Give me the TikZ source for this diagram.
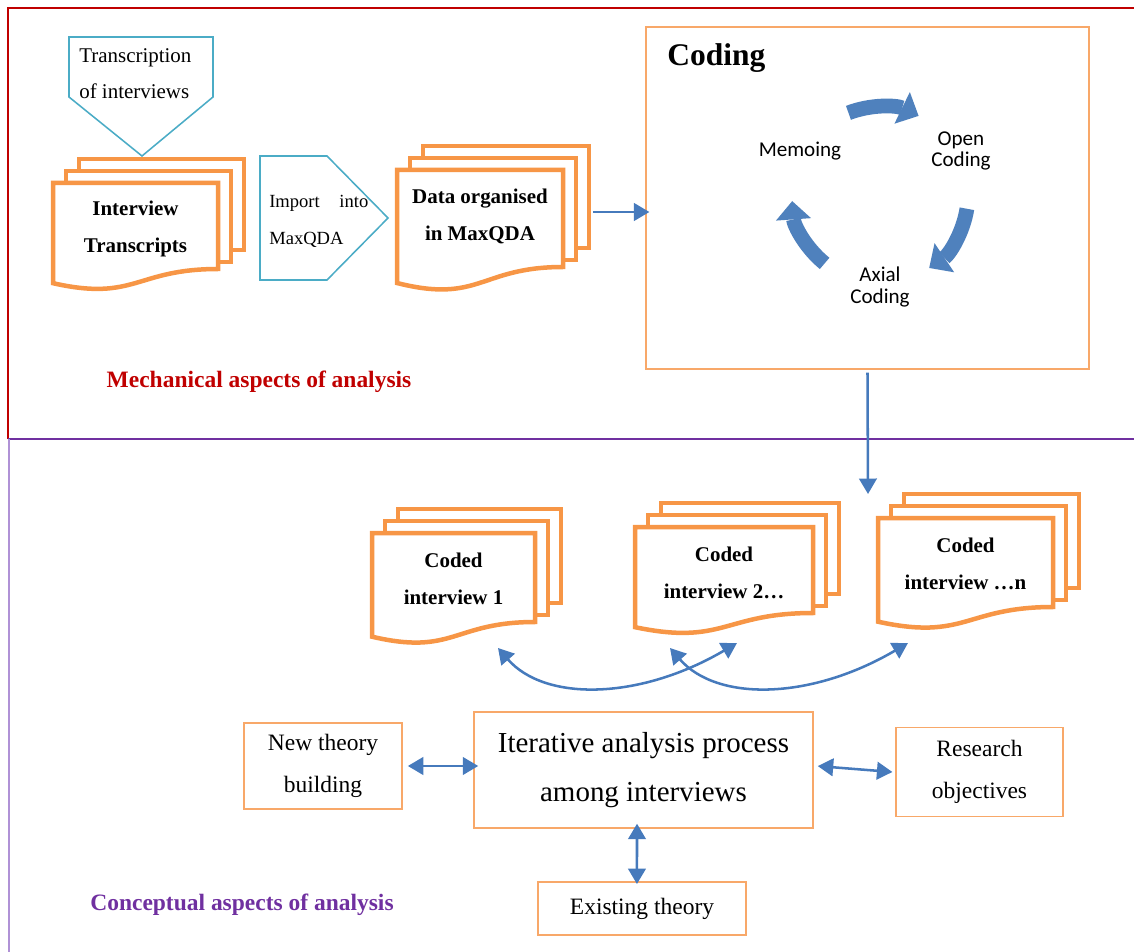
\documentclass[tikz,border=0pt]{standalone}
\usepackage{fontspec}
\setmainfont{Liberation Serif}
\newfontfamily\cyclefont{Carlito}
\usetikzlibrary{arrows.meta}

\definecolor{docorange}{RGB}{247,150,70}
\definecolor{boxorange}{RGB}{248,168,105}
\definecolor{calloutteal}{RGB}{75,172,198}
\definecolor{linkblue}{RGB}{70,122,188}
\definecolor{cycleblue}{RGB}{79,129,189}
\definecolor{mechred}{RGB}{192,0,0}
\definecolor{concpurple}{RGB}{112,48,160}
\definecolor{lightpurple}{RGB}{176,146,214}

\tikzset{
  docline/.style={draw=docorange, line width=3.2pt, fill=white},
  doctext/.style={align=center, inner sep=0pt, font=\bfseries\fontsize{14.9}{26.3}\selectfont},
  callout/.style={draw=calloutteal, line width=1.1pt, fill=white},
  thinbox/.style={draw=boxorange, line width=1.1pt, fill=white, align=center},
  link/.style={linkblue, line width=1.8pt, -{Triangle[length=11pt,width=12.5pt]}},
  dlink/.style={linkblue, line width=1.8pt, {Triangle[length=11pt,width=12.5pt]}-{Triangle[length=11pt,width=12.5pt]}},
  cyclearrow/.style={cycleblue, line width=10.5pt, -{Triangle[length=13pt,width=25pt,line width=0pt]}},
  cyclelabel/.style={align=center, inner sep=0pt, font=\cyclefont\fontsize{15}{15.6}\selectfont},
  aspect/.style={inner sep=0pt, font=\bfseries\fontsize{16.7}{20}\selectfont},
}

% stack of three pages: name, left, top, width, height, text
\newcommand{\docstack}[6]{%
  \draw[docline] ({#2+26},{#3-24}) rectangle ({#2+#4+26},{#3+#5-19});
  \draw[docline] ({#2+13},{#3-12}) rectangle ({#2+#4+13},{#3+#5-7});
  \draw[docline] (#2,#3) -- ({#2+#4},#3) -- ({#2+#4},{#3+#5})
    .. controls ({#2+#4/2},{#3+#5}) and ({#2+#4/2},{#3+1.381*#5}) .. (#2,{#3+1.165*#5}) -- cycle;
  \node[doctext] (#1) at ({#2+#4/2},{#3+46}) {#6};
  \coordinate (#1-right) at ({#2+#4+30},{#3+42});
}

\begin{document}
\begin{tikzpicture}[x=0.025cm, y=-0.025cm]
\useasboundingbox (0,0) rectangle (1134,952);

% frames of the two parts
\draw[mechred, line width=1.4pt] (8,439) -- (8,8) -- (1134,8);
\draw[concpurple, line width=1.2pt] (8,439) -- (1134,439);
\draw[lightpurple, line width=1.6pt] (9,439) -- (9,952);

\draw[callout] (69,37) -- (213,37) -- (213,97) -- (142,156) -- (69,97) -- cycle;
\node[anchor=west, align=left, inner sep=0pt, font=\fontsize{14.9}{25.6}\selectfont] (transcription) at (79,74) {Transcription\\of interviews};

\docstack{interviews}{53}{183}{165}{86}{Interview\\Transcripts}

\draw[callout] (260,156) -- (327,156) -- (388,218) -- (327,280) -- (260,280) -- cycle;
\node[anchor=west, align=left, text width=2.475cm, inner sep=0pt, font=\fontsize{13.2}{26.3}\selectfont] (import) at (269,221) {Import\hfill into\\MaxQDA};

\docstack{organised}{397}{170}{166}{97}{Data organised\\in MaxQDA}

\node[thinbox, minimum width=11.075cm, minimum height=8.55cm] (coding) at (867.5,198) {};
\node[anchor=base west, inner sep=0pt, font=\bfseries\fontsize{22.4}{26}\selectfont] (codingtitle) at (667,66) {Coding};

\coordinate (cyclecentre) at (880,195);
\node[cyclelabel] (memo) at (800,151) {Memoing};
\node[cyclelabel] (opencode) at (961,151) {Open\\Coding};
\node[cyclelabel] (axial) at (880,287) {Axial\\Coding};
\draw[cyclearrow] (cyclecentre) ++(-111:88) arc[start angle=-111, end angle=-64, radius=88];
\draw[cyclearrow] (cyclecentre) ++(9:88) arc[start angle=9, end angle=56, radius=88];
\draw[cyclearrow] (cyclecentre) ++(129:88) arc[start angle=129, end angle=176, radius=88];

\draw[link, shorten >=-3pt] (organised-right) -- (coding.west |- organised-right);

\node[aspect, mechred] (mechanical) at (259,382) {Mechanical aspects of analysis};

\coordinate (codingdrop) at (868,494);
\draw[link] ([yshift=-2pt]coding.south) -- (codingdrop);

\docstack{coded1}{372}{533}{163}{89}{Coded\\interview 1}
\docstack{coded2}{635}{527}{178}{86}{Coded\\interview 2…}
\docstack{codedn}{878}{518}{175}{89}{Coded\\interview …n}

\coordinate (c1foot) at (498,648);
\coordinate (c2footl) at (670,648);
\coordinate (c2footr) at (737,643);
\coordinate (cnfoot) at (908,643);
\draw[dlink] (c1foot) .. controls +(47,54) and +(-97,57) .. (c2footr);
\draw[dlink] (c2footl) .. controls +(47,54) and +(-97,57) .. (cnfoot);

\node[thinbox, minimum width=3.95cm, minimum height=2.15cm, font=\fontsize{16.7}{29.9}\selectfont] (newtheory) at (323,766) {New theory\\building};
\node[thinbox, minimum width=8.475cm, minimum height=2.9cm, font=\fontsize{20.6}{34.9}\selectfont] (iterative) at (643.5,770) {Iterative analysis process\\among interviews};
\node[thinbox, minimum width=4.175cm, minimum height=2.225cm, font=\fontsize{16.7}{29.9}\selectfont] (research) at (979.5,772) {Research\\objectives};
\node[thinbox, minimum width=5.2cm, minimum height=1.325cm, font=\fontsize{16.7}{20}\selectfont] (existing) at (642,908.5) {Existing theory};

\draw[dlink] ([xshift=3.6pt]newtheory.east) -- ([xshift=3.6pt]iterative.west |- newtheory.east);
\draw[dlink] ([xshift=2.8pt,yshift=2.8pt]iterative.east) -- ([xshift=-2pt]research.west);
\draw[dlink] ([xshift=-4.6pt,yshift=3.6pt]iterative.south) -- ([xshift=-3.6pt,yshift=-2pt]existing.north);

\node[aspect, concpurple] (conceptual) at (242,905) {Conceptual aspects of analysis};
\end{tikzpicture}
\end{document}
